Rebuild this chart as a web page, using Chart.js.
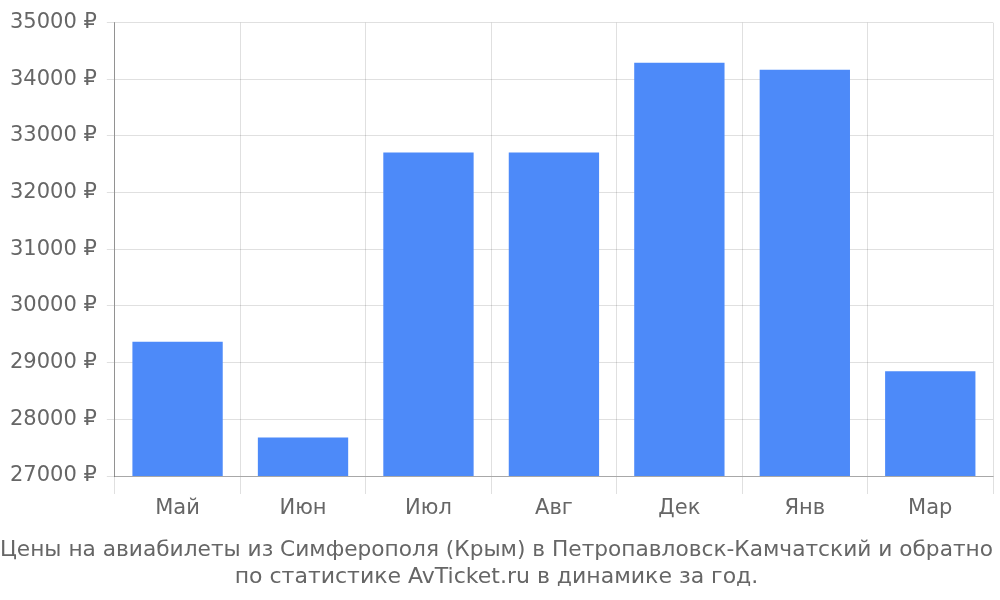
<!DOCTYPE html>
<html><head><meta charset="utf-8">
<script src="https://cdn.jsdelivr.net/npm/chart.js@4"></script>
<style>html,body{margin:0;background:#fff}#wrap{width:1000px;height:600px}</style>
</head><body><div id="wrap"><canvas id="c"></canvas></div>
<script>
const months = ['Май','Июн','Июл','Авг','Дек','Янв','Мар'];
const prices = [29370, 27680, 32710, 32710, 34290, 34170, 28850];
const titleLines = ['Цены на авиабилеты из Симферополя (Крым) в Петропавловск-Камчатский и обратно', 'по статистике AvTicket.ru в динамике за год.'];

Chart.defaults.font.family = 'DejaVu Sans';
Chart.defaults.color = '#666';
new Chart(document.getElementById('c'), {
  type: 'bar',
  data: { labels: months, datasets: [{ data: prices, backgroundColor: '#4d8af9', barPercentage: 0.72, categoryPercentage: 1 }] },
  options: {
    responsive: true, maintainAspectRatio: false, animation: false,
    layout: { padding: { top: 14, right: 7 } },
    scales: {
      x: { ticks: { font: { size: 21 }, padding: 2 }, grid: { color: 'rgba(0,0,0,0.12)', tickLength: 18, offset: true },
           border: { color: 'rgba(0,0,0,0.25)' } },
      y: { min: 27000, max: 35000, ticks: { stepSize: 1000, font: { size: 21 }, padding: 10, callback: v => v + ' ₽' },
           grid: { color: 'rgba(0,0,0,0.12)', tickLength: 8 }, border: { color: 'rgba(0,0,0,0.35)' } }
    },
    plugins: {
      legend: { display: false },
      title: { display: true, position: 'bottom', text: titleLines, font: { size: 22, weight: 'normal' }, lineHeight: 1.1, padding: { top: 14, bottom: 10 } }
    }
  }
});
</script></body></html>
